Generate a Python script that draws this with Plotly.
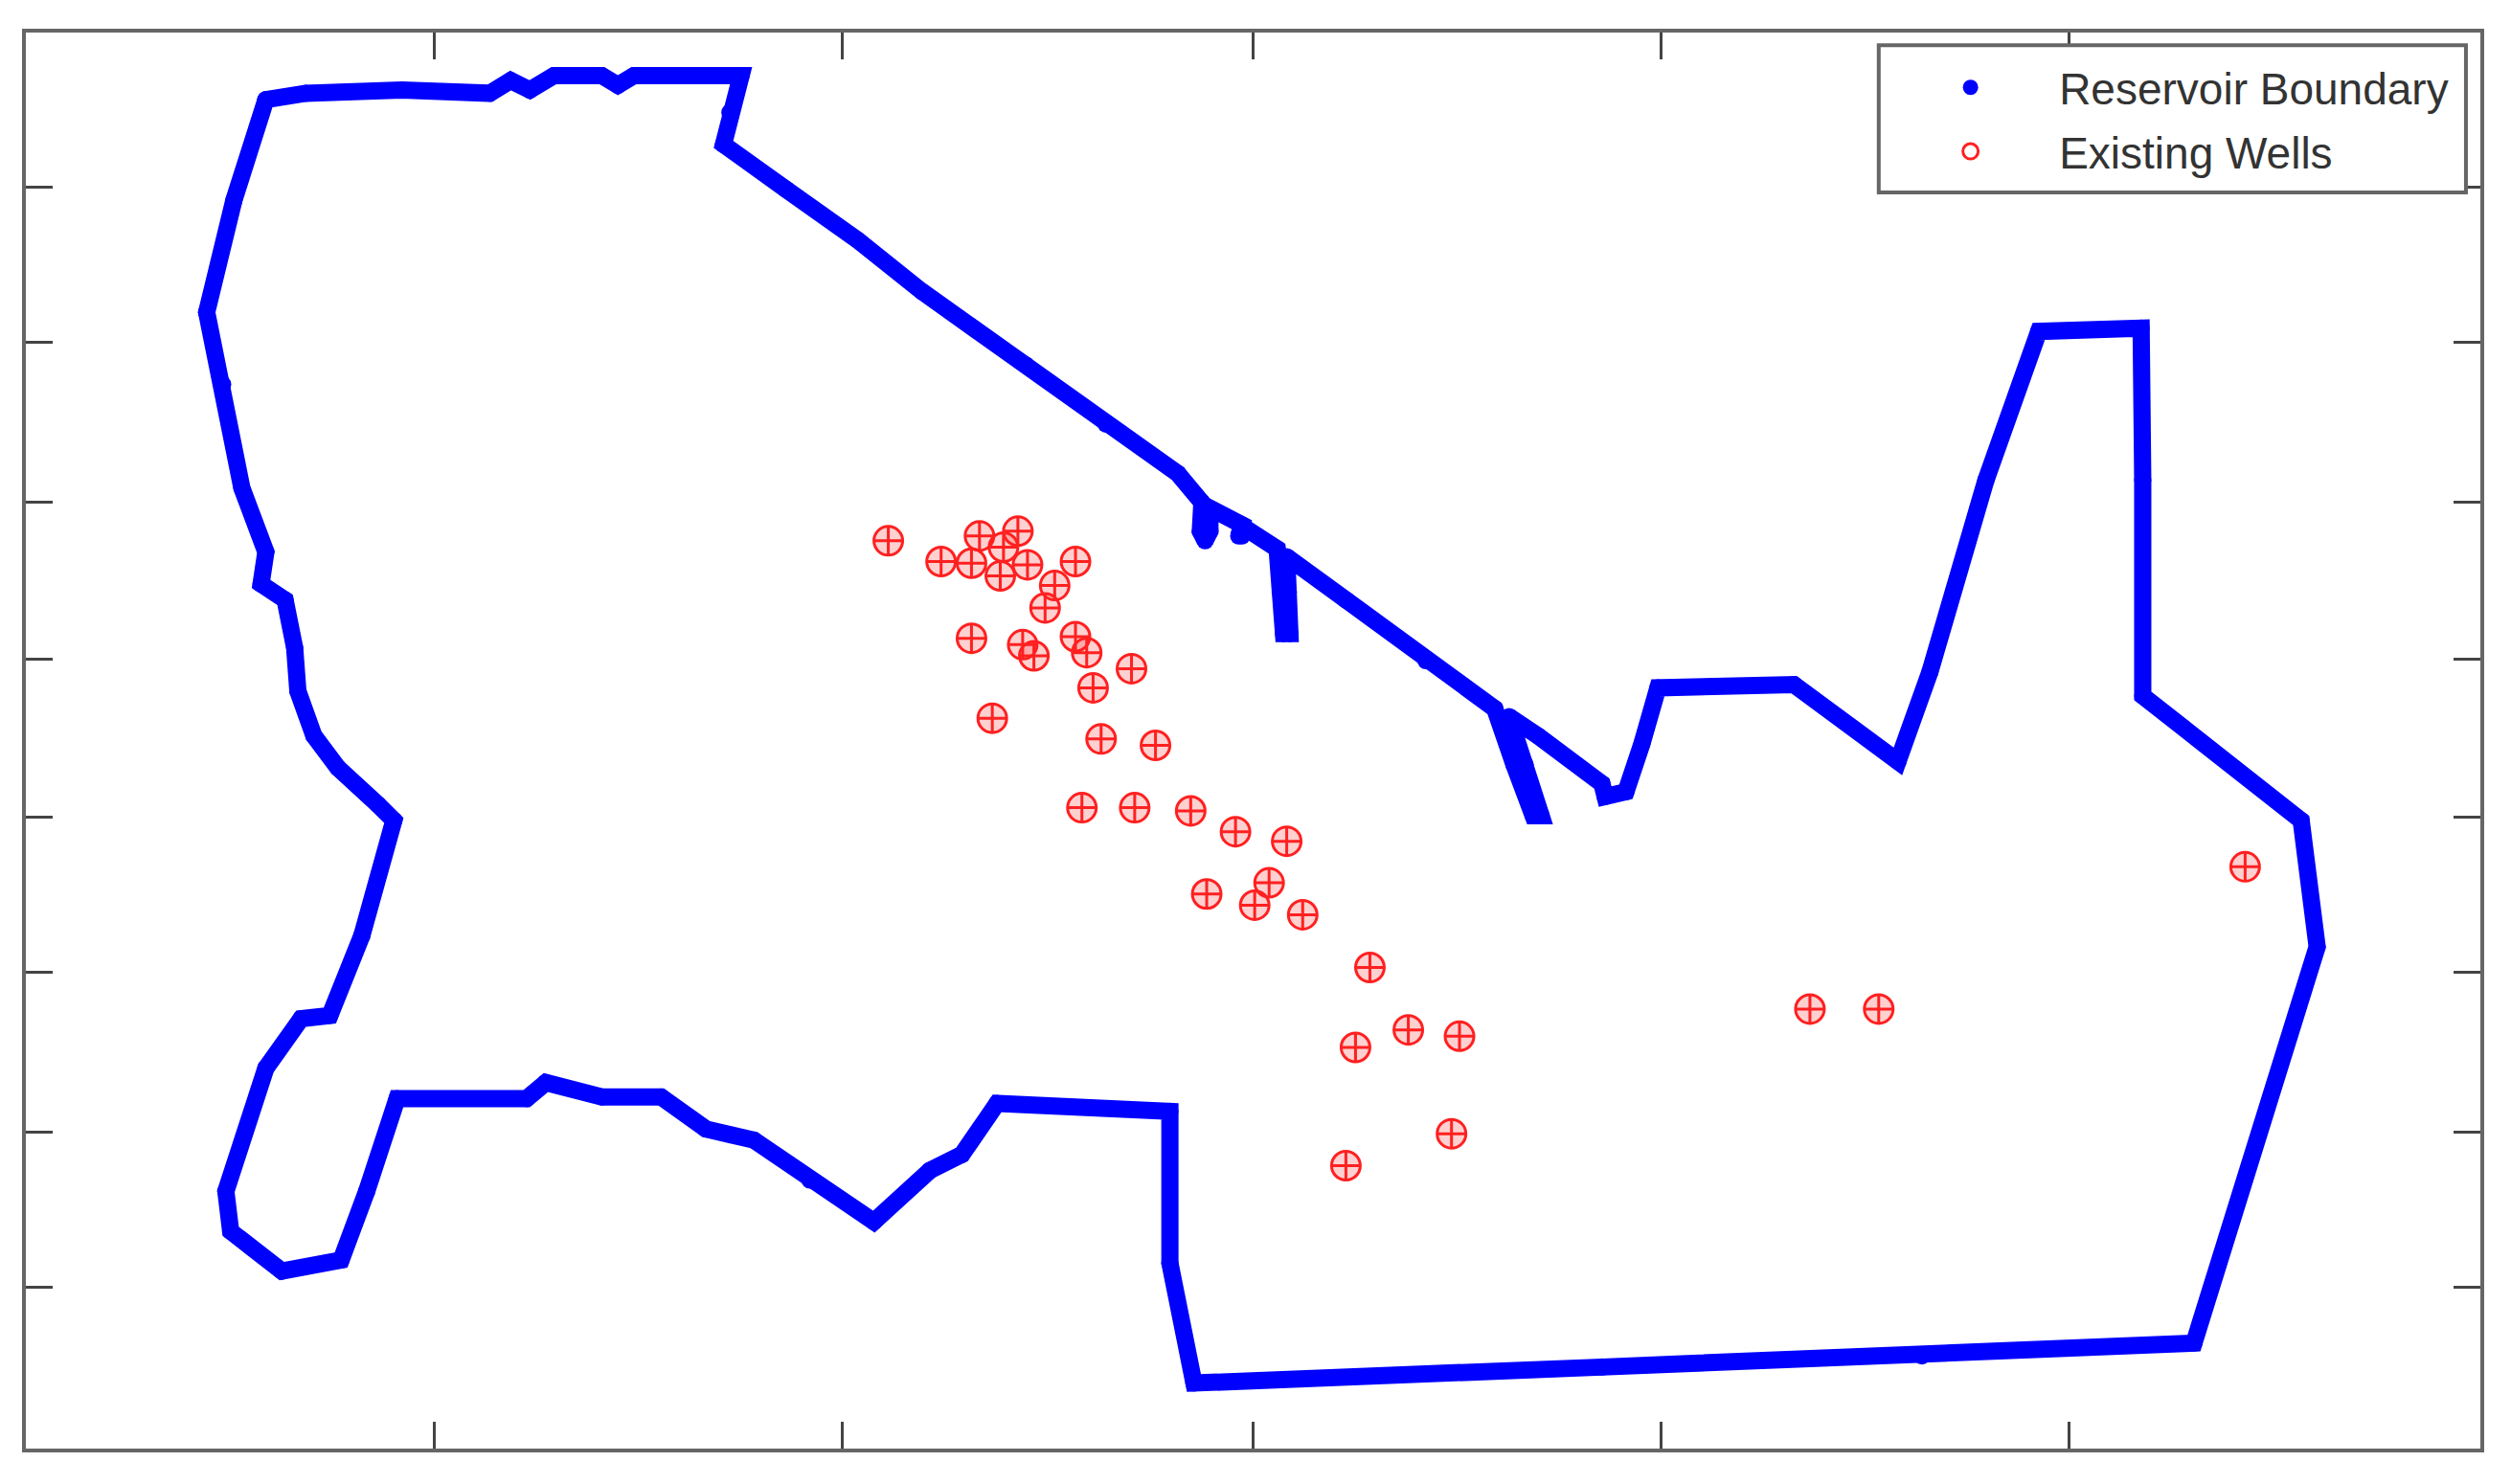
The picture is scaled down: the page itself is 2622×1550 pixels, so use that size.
import plotly.graph_objects as go

# Boundary outline, in axis units (axis has unlabeled ticks)
boundary_x = [165,190,250,305,318,330,345,375,385,395,462,455,451,490,535,575,640,690,735,750,
              749,752,755,755,752,775,773,775,777,797,799,801,805,804,803,840,890,933,945,957,962,952,942,960,1000,1002,1015,1025,1035,
              1120,1185,1205,1240,1273,1337,1338,1338,1437,1447,1370,1200,1000,745,730,730,622,600,580,545,
              505,470,440,412,375,340,328,247,228,212,175,143,140,165,187,205,225,245,235,210,195,185,183,
              177,162,165,150,138,128,145,165]
boundary_y = [62,58,56,58,50,56,47,47,53,47,47,70,90,118,150,182,228,265,296,314,
              332,338,332,318,316,328,335,335,330,343,370,396,396,370,348,375,413,443,478,510,510,478,448,460,490,498,495,465,430,
              428,476,420,300,207,205,300,435,513,592,840,848,855,865,790,695,690,722,732,764,
              738,713,706,686,686,677,687,687,745,788,795,770,745,668,637,635,585,513,503,480,460,432,405,
              375,365,345,305,240,195,125,62]

wells_x = [554,587,606,611,635,626,641,624,671,658,652,606,638,645,671,678,706,682,619,687,721,
           675,708,743,771,803,792,783,753,813,855,879,846,911,906,840,1130,1173,1402]
wells_y = [338,351,352,335,332,342,353,360,351,366,380,399,403,410,398,408,418,430,449,462,466,
           505,505,507,520,526,552,566,559,572,605,644,655,648,709,729,631,631,542]

x_ticks = [270,525,782,1037,1292]
y_ticks = [117,214,314,412,511,608,708,805]
boundary_name = "Reservoir Boundary"
wells_name = "Existing Wells"

BLUE = "#0000ff"
RED = "#ff2020"

fig = go.Figure()
fig.add_trace(go.Scatter(x=boundary_x, y=boundary_y, mode="lines", showlegend=False,
                         line=dict(color=BLUE, width=18, shape="linear"), hoverinfo="skip"))
fig.add_trace(go.Scatter(x=boundary_x, y=boundary_y, mode="markers", name=boundary_name,
                         legendgroup="a", marker=dict(color=BLUE, size=18, symbol="circle")))
fig.add_trace(go.Scatter(x=wells_x, y=wells_y, mode="markers", showlegend=False, hoverinfo="skip",
                         marker=dict(symbol="circle", size=30, color="rgba(255,40,40,0.22)", line=dict(width=0))))
fig.add_trace(go.Scatter(x=wells_x, y=wells_y, mode="markers", name=wells_name,
                         legendgroup="b",
                         marker=dict(symbol="circle-open", size=30, color=RED, line=dict(color=RED, width=3))))
fig.add_trace(go.Scatter(x=wells_x, y=wells_y, mode="markers", showlegend=False, hoverinfo="skip",
                         marker=dict(symbol="cross-thin-open", size=21, color=RED, line=dict(color=RED, width=3))))

axis = dict(showgrid=False, zeroline=False, showticklabels=False, ticks="inside", ticklen=28, tickwidth=3,
            tickcolor="#444444", showline=True, linewidth=4, linecolor="#666666", mirror="ticks")
fig.update_xaxes(range=[15,1549], tickvals=x_ticks, **axis)
fig.update_yaxes(range=[906,20], tickvals=y_ticks, **axis)

fig.update_layout(
    width=2622, height=1550, paper_bgcolor="white", plot_bgcolor="white",
    margin=dict(l=19, r=40, t=26, b=45),
    font=dict(family="Liberation Sans, Arial, sans-serif", size=46, color="#333333"),
    shapes=[dict(type="rect", xref="x", yref="y", x0=1173, x1=1540, y0=28, y1=120, layer="above",
                 fillcolor="white", line=dict(color="#666666", width=4))],
    legend=dict(x=0.7562, xanchor="left", y=0.9859, yanchor="top", bgcolor="rgba(0,0,0,0)",
                borderwidth=0, itemwidth=175,
                traceorder="grouped", tracegroupgap=4, itemsizing="trace",
                font=dict(size=46, color="#333333")),
)
fig.write_html("out.html")
